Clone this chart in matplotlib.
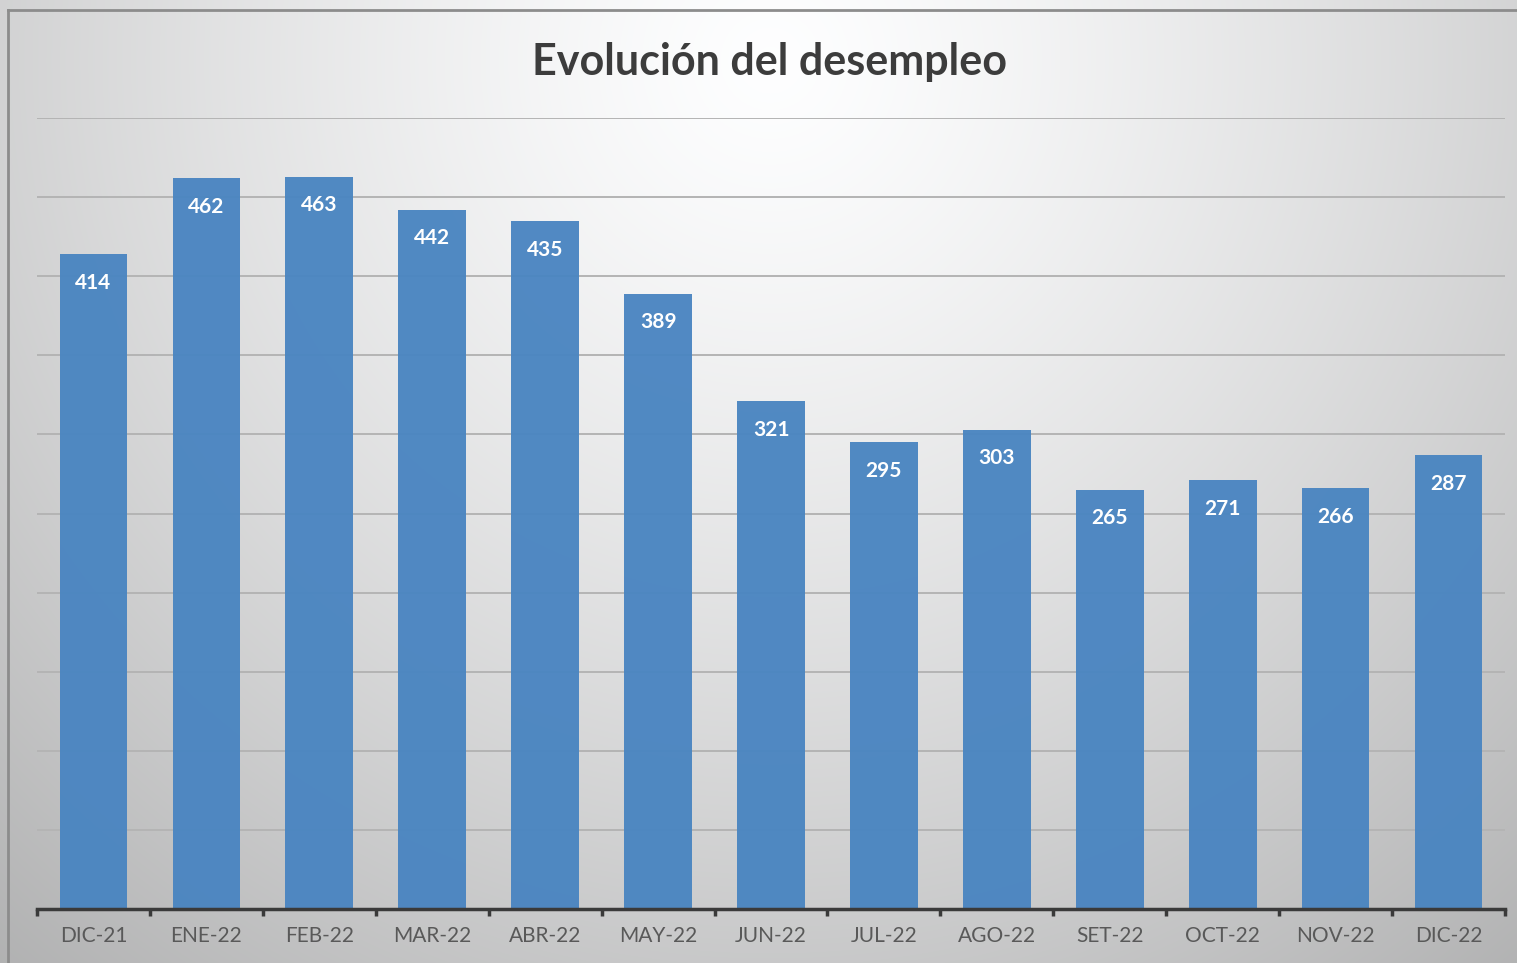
import numpy as np
import matplotlib
matplotlib.use("Agg")
import matplotlib.pyplot as plt
from matplotlib.lines import Line2D

categories = ["DIC-21", "ENE-22", "FEB-22", "MAR-22", "ABR-22", "MAY-22", "JUN-22",
              "JUL-22", "AGO-22", "SET-22", "OCT-22", "NOV-22", "DIC-22"]
values = [414, 462, 463, 442, 435, 389, 321, 295, 303, 265, 271, 266, 287]
title = "Evolución del desempleo"

W, H = 1517, 963
fig = plt.figure(figsize=(W / 100, H / 100), dpi=100)

# background radial gradient
bg = fig.add_axes([0, 0, 1, 1], zorder=0)
yy, xx = np.mgrid[0:H, 0:W]
r = np.sqrt(((xx - 770) / 1.0) ** 2 + ((yy - 60) / 1.0) ** 2) / 900.0
shade = 1.0 - 0.21 * np.clip(r, 0, 1.4) ** 1.3
img = np.dstack([shade * 0.995, shade * 0.997, shade * 1.0])
img = np.clip(img, 0, 1)
bg.imshow(img, aspect="auto", extent=[0, W, H, 0])
bg.set_xlim(0, W)
bg.set_ylim(H, 0)
bg.axis("off")

# border (left and top)
fig.add_artist(Line2D([8 / W, 8 / W], [0, 1 - 10 / H], transform=fig.transFigure,
                      color="#8c8c8c", lw=2))
fig.add_artist(Line2D([8 / W, 1], [1 - 10 / H, 1 - 10 / H], transform=fig.transFigure,
                      color="#8c8c8c", lw=2))

left, right = 37 / W, 1505 / W
bottom = (H - 909) / H
top = (H - 118) / H
ax = fig.add_axes([left, bottom, right - left, top - bottom], zorder=1)
ax.patch.set_alpha(0)

x = np.arange(len(categories))
ax.set_xlim(-0.5, len(categories) - 0.5)
ax.set_ylim(0, 500)
ax.set_yticks(np.arange(50, 501, 50))
ax.yaxis.grid(True, color="#b4b4b4", lw=1.4)
ax.set_axisbelow(True)
ax.tick_params(axis="y", left=False, labelleft=False)

bars = ax.bar(x, values, width=0.6, color="#4a85c1", alpha=0.96, zorder=2)

for xi, v in zip(x, values):
    ax.annotate(str(v), (xi, v), xytext=(0, -25), textcoords="offset points",
                ha="center", va="baseline", color="white", fontsize=15,
                fontweight="bold", family="Lato", zorder=3)

ax.set_xticks(x)
ax.set_xticklabels(categories, family="Lato", fontsize=15, color="#595959")
ax.tick_params(axis="x", length=0, pad=12)
ax.set_xticks(np.arange(-0.5, len(categories), 1.0), minor=True)
ax.tick_params(axis="x", which="minor", length=5, width=2.5, color="#3a3a3a", direction="out")

for s in ["top", "right", "left"]:
    ax.spines[s].set_visible(False)
ax.spines["bottom"].set_color("#3a3a3a")
ax.spines["bottom"].set_linewidth(2.5)

fig.text(770 / W, 1 - 62 / H, title, ha="center", va="center", fontsize=31,
         fontweight="bold", family="Lato", color="#3c3c3c")

fig.savefig("out.png", dpi=100)
